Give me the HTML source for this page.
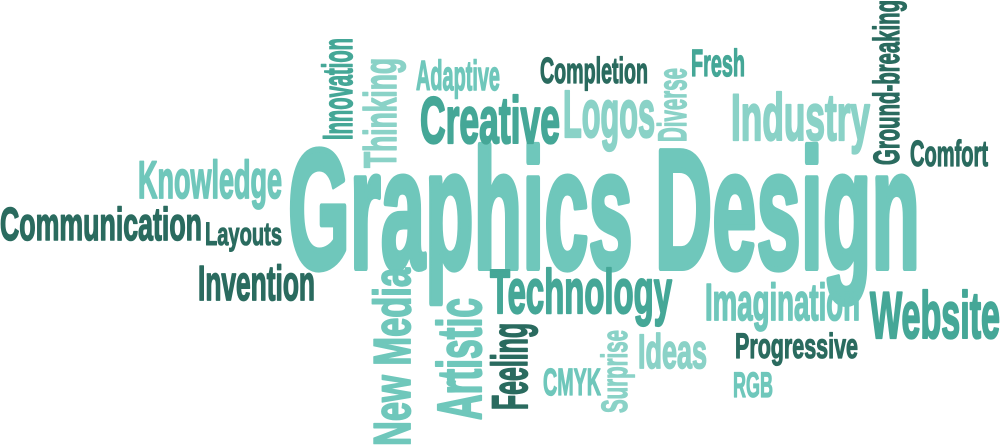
<!DOCTYPE html>
<html><head><meta charset="utf-8"><style>
html,body{margin:0;padding:0;background:#fff;width:1000px;height:446px;overflow:hidden}
svg text{font-family:"Liberation Sans",sans-serif;font-weight:700}
</style></head><body>
<svg width="1000" height="446" viewBox="0 0 1000 446">
<g id="words"></g>
</svg>
<script>
const words=["Graphics Design","Creative","Adaptive","Completion","Logos","Fresh","Industry","Comfort","Knowledge","Communication","Layouts","Invention","Technology","Imagination","Website","Ideas","Progressive","CMYK","RGB","Innovation","Thinking","Diverse","Ground-breaking","New Media","Artistic","Feeling","Surprise"];
const C={d:"#2a6b5f",m:"#45a797",l:"#6fc7bb",x:"#8ad2c7"};
// [x, baseline, fontSize, length, color, rotated]
const spec=[
[288,268,170,632,"l",0],[420,143,66,140,"m",0],[416,90,42,84,"l",0],[540,83,36,108,"d",0],
[563,137,67,92,"x",0],[691,76,38,54,"m",0],[731,140,66,139,"x",0],[910,166,36,78,"d",0],
[138,198,53,144,"l",0],[0,240,46,202,"d",0],[205,245,32,77,"d",0],[198,300,49,117,"d",0],
[490,313,62,182,"m",0],[705,320,52,155,"l",0],[870,338,66,130,"m",0],[638,368,48,69,"x",0],
[735,358,35,123,"d",0],[543,395,38,58,"l",0],[733,397,35,40,"l",0],
[352,140,42,102,"m",1],[396,168,45,110,"x",1],[686,142,40,74,"x",1],[899,165,36,165,"d",1],
[410,446,52,178,"l",1],[481,420,62,122,"l",1],[527,410,50,87,"d",1],[627,413,36,83,"x",1]
];
const g=document.getElementById('words');
words.forEach((w,i)=>{
 const s=spec[i];
 const t=document.createElementNS('http://www.w3.org/2000/svg','text');
 t.textContent=w;
 t.setAttribute('font-size',s[2]);
 t.setAttribute('font-weight','bold');
 t.setAttribute('fill',C[s[4]]);
 t.setAttribute('stroke',C[s[4]]);
 t.setAttribute('stroke-width',(s[2]*0.035).toFixed(2));
 t.setAttribute('stroke-linejoin','round');
 t.setAttribute('textLength',s[3]);
 t.setAttribute('lengthAdjust','spacingAndGlyphs');
 if(s[5]){t.setAttribute('transform','translate('+s[0]+','+s[1]+') rotate(-90)');t.setAttribute('x',0);t.setAttribute('y',0);}
 else{t.setAttribute('x',s[0]);t.setAttribute('y',s[1]);}
 
 
 g.appendChild(t);
});
</script>
</body></html>
